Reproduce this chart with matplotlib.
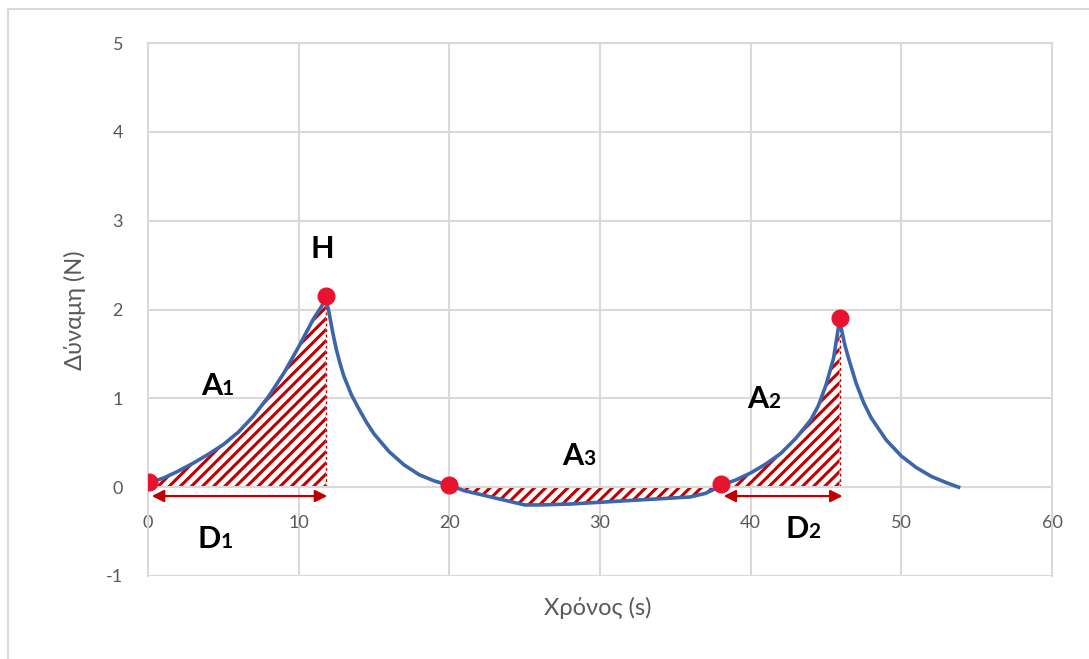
import matplotlib
matplotlib.use("Agg")
import matplotlib.pyplot as plt
from matplotlib.lines import Line2D
import numpy as np

# curve (time in s, force in N)
t = [0, 1, 2, 3, 4, 5, 6, 7, 8, 9, 10, 10.5, 11, 11.5, 11.8,
     12, 12.25, 12.5, 12.75, 13, 13.5, 14, 14.5, 15, 16, 17, 18, 19, 20,
     21, 22, 23, 24, 25, 26, 28, 30, 32, 34, 36, 37, 37.5, 38,
     39, 40, 41, 42, 43, 44, 44.5, 45, 45.5, 45.9,
     46, 46.25, 46.5, 47, 47.5, 48, 49, 50, 51, 52, 53, 53.8]
force = [0.05, 0.1, 0.18, 0.27, 0.37, 0.48, 0.62, 0.8, 1.02, 1.28, 1.58, 1.74, 1.9, 2.03, 2.12,
         1.98, 1.75, 1.55, 1.39, 1.25, 1.04, 0.88, 0.73, 0.6, 0.4, 0.25, 0.14, 0.07, 0.02,
         -0.04, -0.08, -0.12, -0.16, -0.2, -0.2, -0.19, -0.17, -0.15, -0.13, -0.11, -0.07, -0.03, 0.02,
         0.08, 0.16, 0.26, 0.38, 0.55, 0.76, 0.92, 1.15, 1.45, 1.88,
         1.8, 1.6, 1.45, 1.17, 0.95, 0.78, 0.53, 0.35, 0.22, 0.12, 0.05, 0.0]

# hatched areas (start, end)
areas = [(0, 11.8), (20, 38), (38, 45.9)]

# red points
dot_t = [0.05, 11.8, 20, 38, 45.9]
dot_f = [0.06, 2.15, 0.03, 0.04, 1.9]

# double arrows D1, D2
arrow_t = [(0.25, 11.9), (38.2, 46.1)]
arrow_f = [-0.1, -0.1]

# labels: letter, index, position
labels = ["A", "A", "A", "D", "D"]
subs = ["1", "2", "3", "1", "2"]
label_t = [4.9, 41.2, 28.9, 4.85, 43.85]
label_f = [1.04, 0.89, 0.25, -0.69, -0.57]

xticks = [0, 10, 20, 30, 40, 50, 60]
yticks = [-1, 0, 1, 2, 3, 4, 5]

plt.rcParams['font.family'] = ['Lato', 'DejaVu Sans']
plt.rcParams['hatch.linewidth'] = 2.2
plt.rcParams['axes.unicode_minus'] = False

grid_c = '#d9d9d9'
text_c = '#595959'
red = '#c00000'

fig = plt.figure(figsize=(10.89, 6.59), dpi=100)
ax = fig.add_axes([148/1089, 1 - 576/659, 904/1089, 533/659])

# outer chart frame
fig.add_artist(Line2D([8/1089, 8/1089], [0, 1 - 9/659], transform=fig.transFigure, color=grid_c, lw=1.5))
fig.add_artist(Line2D([8/1089, 1], [1 - 9/659, 1 - 9/659], transform=fig.transFigure, color=grid_c, lw=1.5))

tt = np.array(t)
ff = np.array(force)
for a, b in areas:
    m = (tt >= a) & (tt <= b)
    ax.fill_between(tt[m], 0, ff[m], facecolor='white', edgecolor=red,
                    linewidth=0, hatch='///', zorder=2)
    # dashed right edge of the hatched area
    ax.plot([b, b], [0, ff[m][-1]], color=red, lw=1, ls=(0, (2, 2)), zorder=2)

ax.plot(t, force, color='#3d65aa', lw=2.6, zorder=3, solid_joinstyle='round')
ax.plot(dot_t, dot_f, 'o', color='#e8132e', ms=12, zorder=5)

for (a, b), y in zip(arrow_t, arrow_f):
    ax.annotate('', xy=(b, y), xytext=(a, y),
                arrowprops=dict(arrowstyle='<|-|>', color=red, lw=1.6,
                                mutation_scale=18, shrinkA=0, shrinkB=0), zorder=4)

for s, n, x, y in zip(labels, subs, label_t, label_f):
    ax.text(x, y, s, fontsize=22, fontweight='bold', ha='right', va='baseline', zorder=6)
    ax.text(x, y, n, fontsize=15, fontweight='bold', ha='left', va='baseline', zorder=6)
ax.text(11.55, 2.58, 'H', fontsize=22, fontweight='bold', ha='center', va='baseline', zorder=6)

ax.set_xlim(0, 60)
ax.set_ylim(-1, 5)
ax.set_xticks(xticks)
ax.set_yticks(yticks)
ax.grid(True, color=grid_c, lw=1.5, zorder=0)
ax.set_axisbelow(True)
for s in ['left', 'right', 'top']:
    ax.spines[s].set_color(grid_c)
    ax.spines[s].set_linewidth(1.5)
ax.spines['bottom'].set_position(('data', 0))
ax.spines['bottom'].set_color(grid_c)
ax.spines['bottom'].set_linewidth(1.5)
ax.tick_params(axis='both', length=0, labelsize=13, labelcolor=text_c)
ax.tick_params(axis='x', pad=20)
ax.tick_params(axis='y', pad=18)

fig.text(598/1089, 1 - 608/659, 'Χρόνος (s)', fontsize=17, color=text_c, ha='center', va='center')
fig.text(75/1089, 1 - 310/659, 'Δύναμη (N)', fontsize=17, color=text_c, ha='center', va='center', rotation=90)

fig.savefig('out.png', dpi=100)
